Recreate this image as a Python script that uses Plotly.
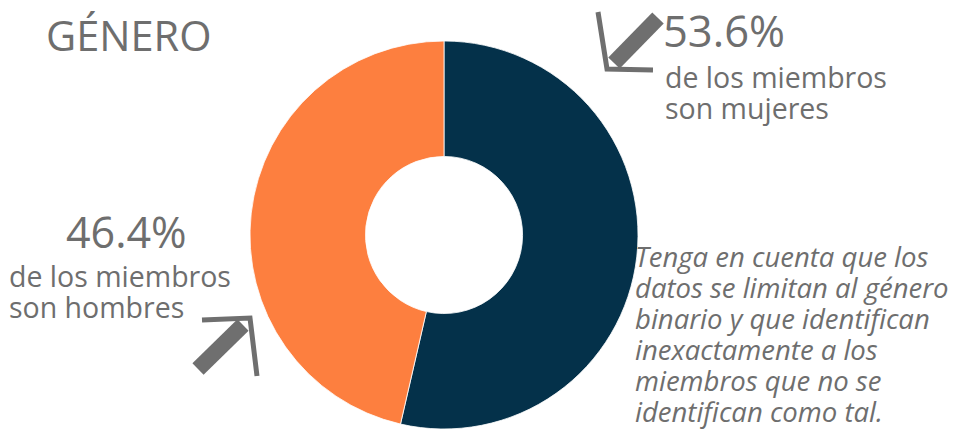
import plotly.graph_objects as go

# the page body has an 8px margin; figure size and coordinates compensate for it
OFF = 8
W, H = 962 - OFF, 431 - OFF

labels = ["Mujeres", "Hombres"]
values = [53.6, 46.4]
colors = ["#04314A", "#FD7F3F"]

title_text = "GÉNERO"
women_pct = "53.6%"
women_lines = ["de los miembros", "son mujeres"]
men_pct = "46.4%"
men_lines = ["de los miembros", "son hombres"]
note_lines = [
    "Tenga en cuenta que los",
    "datos se limitan al género",
    "binario y que identifican",
    "inexactamente a los",
    "miembros que no se",
    "identifican como tal.",
]

GRAY = "#6E6E6E"
ARROW = "#6F6F6F"
FONT = "Open Sans"
LINE_GAP = 31.0  # pixel distance between baselines in the reference

def px(x):
    return (x - OFF) / W

def py(y):
    return 1 - (y - OFF) / H

cx, cy, r = 444, 235, 194

fig = go.Figure(go.Pie(
    labels=labels, values=values, hole=0.405, sort=False,
    direction="clockwise", rotation=0,
    marker=dict(colors=colors, line=dict(color="#ffffff", width=0.8)),
    textinfo="none", hoverinfo="label+percent", showlegend=False,
    domain=dict(x=[px(cx - r), px(cx + r)], y=[py(cy + r), py(cy - r)]),
))

ann = []
def add(text, x, y, size, xanchor="left", italic=False):
    ann.append(dict(text=text, x=px(x), y=py(y), xref="paper", yref="paper",
                    xanchor=xanchor, yanchor="middle", align="left",
                    showarrow=False,
                    font=dict(family=FONT, size=size, color=GRAY,
                              style="italic" if italic else "normal")))

def add_block(lines, x, y_first, size, italic=False):
    # base font sets the line pitch (plotly uses 1.3em), inner spans set glyph size
    base = LINE_GAP / 1.3
    text = "<br>".join(f'<span style="font-size:{size}px">{t}</span>' for t in lines)
    y_mid = y_first + (len(lines) - 1) * LINE_GAP / 2
    add(text, x, y_mid, base, italic=italic)

add(title_text, 44, 35, 41.5)
add(women_pct, 661, 30.5, 43.5)
add_block(women_lines, 663, 77, 28.5)
add(men_pct, 126, 231, 43, xanchor="center")
add_block(men_lines, 7, 276, 28.5)
add_block(note_lines, 633, 256, 27.5, italic=True)

shapes = []
def seg(x0, y0, x1, y1, w):
    shapes.append(dict(type="line", xref="paper", yref="paper",
                       x0=px(x0), y0=py(y0), x1=px(x1), y1=py(y1),
                       line=dict(color=ARROW, width=w)))

def chevron(pts, w):
    d = "M " + " L ".join(f"{px(x)},{py(y)}" for x, y in pts)
    shapes.append(dict(type="path", xref="paper", yref="paper", path=d,
                       line=dict(color=ARROW, width=w)))

# upper arrow (pointing down-left)
seg(658, 18, 614, 63, 16)
chevron([(598, 12), (607, 69), (653, 70)], 5)
# lower arrow (pointing up-right)
seg(198, 369, 243, 325, 16)
chevron([(202, 320), (250, 318), (257, 376)], 5)

fig.update_layout(
    width=W, height=H, margin=dict(l=0, r=0, t=0, b=0),
    paper_bgcolor="white", plot_bgcolor="white",
    annotations=ann, shapes=shapes,
)

fig.write_html("out.html")
